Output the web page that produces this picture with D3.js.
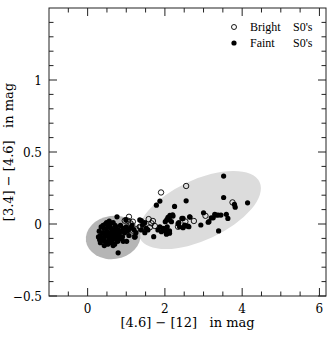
<!DOCTYPE html>
<html>
<head>
<meta charset="utf-8">
<script src="https://cdn.jsdelivr.net/npm/d3@7"></script>
<style>
  body { margin: 0; background: #fff; }
  text { font-family: "DejaVu Serif", serif; fill: #000; }
  .legend text { font-family: "Liberation Serif", serif; }
</style>
</head>
<body>
<svg id="chart" width="335" height="337"></svg>
<script>
// axis ticks
var xTicks = [0, 2, 4, 6];
var yTicks = [-0.5, 0, 0.5, 1];

// shaded regions: centre in data units, semi-axes in x-units, tilt in degrees
var regions = [
  { cx: 2.90, cy: 0.097, a: 1.71, b: 0.78, angle: -25, fill: "#dcdcdc" },
  { cx: 0.66, cy: -0.093, a: 0.71, b: 0.56, angle: -8, fill: "#b5b5b5" }
];

// faint S0's (filled)
var faint = [
  [3.52,0.333],[3.52,0.184],[2.55,0.161],[4.14,0.147],[3.80,0.136],[3.82,0.117],
  [2.25,0.122],[2.13,0.060],[2.08,0.046],[2.05,0.030],[2.01,0.016],[2.20,0.064],
  [3.00,0.078],[3.29,0.067],[3.20,0.043],[3.25,0.043],[3.38,0.062],[3.45,0.062],
  [3.59,0.067],[3.63,0.039],[3.12,0.012],[2.93,-0.007],[2.65,0.048],[2.44,0.039],
  [2.34,0.002],[2.51,-0.007],[2.60,-0.014],[2.47,-0.026],[2.62,-0.019],[3.39,-0.048],
  [2.06,-0.019],[2.12,-0.048],[2.06,-0.064],[2.02,-0.030],[1.87,0.159],[1.78,0.131],
  [1.35,0.028],[1.48,0.009],[1.42,-0.007],[1.52,-0.030],[1.39,-0.041],[1.48,-0.060],
  [1.56,-0.041],[1.71,-0.088],[1.87,-0.019],[1.95,-0.030],[1.82,-0.041],[1.91,-0.053],
  [1.99,-0.046],[2.12,-0.064],[2.04,-0.071],[2.17,0.016],[2.21,0.055],[2.11,0.046],
  [2.36,0.009],[2.47,0.039],[2.38,-0.019],[2.56,-0.014],[2.64,0.050],[3.14,0.016],
  [3.33,0.062],[1.39,0.023],[2.12,0.028],
  [0.30,-0.05],[0.33,-0.08],[0.35,-0.02],[0.38,-0.11],[0.40,-0.06],[0.42,-0.03],
  [0.44,-0.09],[0.46,0.00],[0.48,-0.13],[0.50,-0.05],[0.52,-0.08],[0.53,-0.02],
  [0.55,-0.11],[0.56,0.02],[0.58,-0.06],[0.60,-0.09],[0.61,-0.03],[0.63,-0.12],
  [0.65,-0.07],[0.66,0.01],[0.68,-0.04],[0.70,-0.10],[0.72,-0.06],[0.74,-0.02],
  [0.76,-0.08],[0.78,-0.12],[0.80,-0.04],[0.82,-0.07],[0.85,-0.01],[0.88,-0.05],
  [0.90,-0.09],[0.93,-0.03],[0.96,-0.06],[1.00,-0.02],[1.03,-0.05],[1.07,-0.08],
  [1.10,-0.03],[1.15,-0.01],[1.20,-0.04],[1.25,-0.06],
  [0.36,-0.10],[0.45,-0.12],[0.52,-0.14],[0.58,-0.13],[0.62,-0.10],[0.40,-0.01],
  [0.49,0.01],[0.57,-0.01],[0.64,-0.05],[0.71,-0.01],[0.47,-0.07],[0.55,-0.07],
  [0.67,-0.09],[0.75,-0.11],[0.85,-0.10],[0.92,-0.12],[0.33,-0.13],[0.43,-0.15],
  [0.70,-0.14],[0.28,-0.09],
  [0.79,-0.20],[0.66,-0.15],[0.31,-0.11],[0.76,0.05],[1.01,-0.12],[1.22,-0.09],[0.99,0.03]
];

// bright S0's (open)
var bright = [
  [2.55,0.264],[1.90,0.219],[3.75,0.150],[3.05,0.057],[2.75,0.021],[2.34,-0.019],
  [2.53,0.017],[1.58,0.034],[1.69,0.021],[1.65,0.005],[1.74,-0.014],[1.61,-0.023],
  [1.45,-0.023],[1.37,-0.023],[1.07,0.050],[0.96,0.023],[1.04,0.023],[1.17,0.016],
  [1.11,0.005],[1.26,-0.037],[1.17,-0.046],[1.22,-0.088],[1.35,-0.019],
  [0.78,-0.062],[0.88,-0.083],[0.67,-0.097]
];

var legendItems = [
  { name: "Bright", filled: false },
  { name: "Faint", filled: true }
];

var svg = d3.select("#chart");
var pLeft = 49, pTop = 8, pRight = 326, pBottom = 296;

var x = d3.scaleLinear().domain([-1, 6.17]).range([pLeft, pRight]);
var y = d3.scaleLinear().domain([-0.5, 1.5]).range([pBottom, pTop]);

// shaded ellipses
regions.forEach(function(r) {
  var rx = x(r.cx + r.a) - x(r.cx);
  var ry = x(r.cx + r.b) - x(r.cx);
  svg.append("ellipse")
    .attr("cx", 0).attr("cy", 0)
    .attr("rx", rx).attr("ry", ry)
    .attr("transform", `translate(${x(r.cx)},${y(r.cy)}) rotate(${r.angle})`)
    .attr("fill", r.fill);
});

// points
svg.append("g").selectAll("circle").data(faint).enter().append("circle")
  .attr("cx", function(d) { return x(d[0]); })
  .attr("cy", function(d) { return y(d[1]); })
  .attr("r", 2.6)
  .attr("fill", "#000");

svg.append("g").selectAll("circle").data(bright).enter().append("circle")
  .attr("cx", function(d) { return x(d[0]); })
  .attr("cy", function(d) { return y(d[1]); })
  .attr("r", 2.7)
  .attr("fill", "none")
  .attr("stroke", "#000")
  .attr("stroke-width", 0.9);

// ticks, all four sides, pointing in
var xMinor = d3.range(-0.5, 6.01, 0.5).filter(function(v) { return Math.abs(v % 2) > 1e-6; });
var yMinor = d3.range(-0.4, 1.5, 0.1).filter(function(v) {
  return yTicks.every(function(t) { return Math.abs(t - v) > 1e-6; });
});

function tickLines(g, vals, len, side) {
  vals.forEach(function(v) {
    if (side == "bottom" || side == "top") {
      var yy = side == "bottom" ? pBottom : pTop;
      var dir = side == "bottom" ? -1 : 1;
      g.append("line").attr("x1", x(v)).attr("x2", x(v)).attr("y1", yy).attr("y2", yy + dir * len);
    } else {
      var xx = side == "left" ? pLeft : pRight;
      var dir2 = side == "left" ? 1 : -1;
      g.append("line").attr("y1", y(v)).attr("y2", y(v)).attr("x1", xx).attr("x2", xx + dir2 * len);
    }
  });
}

var axes = svg.append("g").attr("stroke", "#222").attr("stroke-width", 1);
axes.append("rect")
  .attr("x", pLeft).attr("y", pTop)
  .attr("width", pRight - pLeft).attr("height", pBottom - pTop)
  .attr("fill", "none");
["bottom", "top"].forEach(function(s) {
  tickLines(axes, xTicks, 8, s);
  tickLines(axes, xMinor, 4.5, s);
});
["left", "right"].forEach(function(s) {
  tickLines(axes, yTicks, 8, s);
  tickLines(axes, yMinor, 4.5, s);
});

// tick labels
svg.append("g").selectAll("text").data(xTicks).enter().append("text")
  .attr("x", function(d) { return x(d); })
  .attr("y", pBottom + 17)
  .attr("text-anchor", "middle")
  .attr("font-size", 12)
  .text(function(d) { return d; });

svg.append("g").selectAll("text").data(yTicks).enter().append("text")
  .attr("x", pLeft - 7)
  .attr("y", function(d) { return y(d) + 4.5; })
  .attr("text-anchor", "end")
  .attr("font-size", 12)
  .text(function(d) { return d < 0 ? "\u2212" + Math.abs(d) : d; });

// axis titles
svg.append("text")
  .attr("x", (pLeft + pRight) / 2)
  .attr("y", 327)
  .attr("text-anchor", "middle")
  .attr("font-size", 13)
  .attr("xml:space", "preserve")
  .text("[4.6] \u2212 [12]   in mag");

svg.append("text")
  .attr("transform", `translate(13,${(pTop + pBottom) / 2}) rotate(-90)`)
  .attr("text-anchor", "middle")
  .attr("font-size", 13)
  .attr("xml:space", "preserve")
  .text("[3.4] \u2212 [4.6]   in mag");

// legend
var leg = svg.append("g").attr("class", "legend");
legendItems.forEach(function(d, i) {
  var ly = 27 + i * 16;
  leg.append("circle")
    .attr("cx", 234).attr("cy", ly).attr("r", d.filled ? 2.6 : 2.5)
    .attr("fill", d.filled ? "#000" : "none")
    .attr("stroke", d.filled ? "none" : "#000")
    .attr("stroke-width", 0.9);
  leg.append("text").attr("x", 250).attr("y", ly + 4).attr("font-size", 12).text(d.name);
  leg.append("text").attr("x", 293).attr("y", ly + 4).attr("font-size", 12).text("S0's");
});
</script>
</body>
</html>
